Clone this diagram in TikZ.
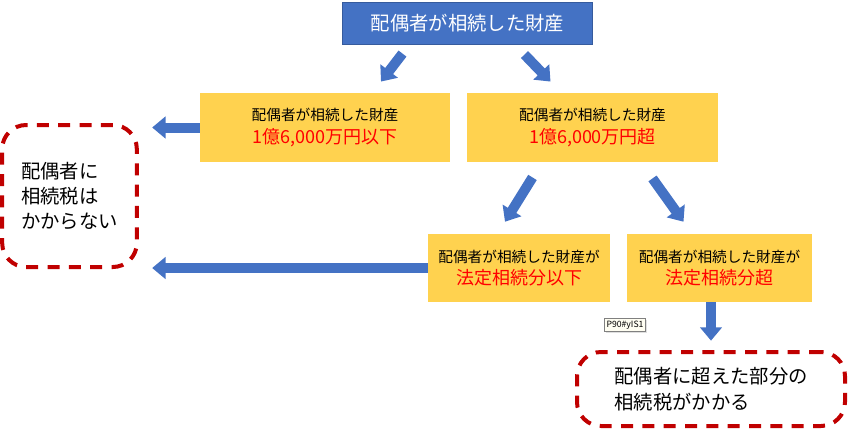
\documentclass[tikz,border=0pt]{standalone}
\usepackage{fontspec}
\setmainfont{Noto Sans CJK JP}
\usetikzlibrary{arrows.meta,calc,shadows}

\definecolor{boxblue}{HTML}{4472C4}
\definecolor{boxgold}{HTML}{FFD24F}
\definecolor{dashred}{HTML}{C00000}
\newcommand{\hotline}[1]{{\color{red}\fontsize{13.5pt}{17pt}\selectfont #1}}

\begin{document}
\begin{tikzpicture}[
    x=0.75pt, y=-0.75pt,
    headbox/.style={rectangle, draw=boxblue!80!black, line width=0.6pt, fill=boxblue, text=white, inner sep=0pt,
      minimum width=188pt, minimum height=31pt, font=\fontsize{14.5pt}{17pt}\selectfont},
    casebox/.style={rectangle, fill=boxgold, inner sep=0pt, minimum height=52pt, align=center,
      font=\fontsize{11pt}{17pt}\selectfont},
    resultbox/.style={rectangle, rounded corners=18pt, draw=dashred, line width=3pt,
      dash pattern=on 9pt off 7pt, inner sep=0pt, align=left, font=\fontsize{14.5pt}{19pt}\selectfont},
    barrow/.style={draw=boxblue, line width=7.5pt, -{Triangle[width=16pt, length=10pt]}},
    tag/.style={rectangle, draw=gray, fill=yellow!5, line width=0.4pt, inner sep=1.5pt,
      drop shadow={shadow xshift=1pt, shadow yshift=-1pt, fill=gray!50}, font=\fontsize{6.5pt}{7pt}\selectfont}
]
\useasboundingbox (0,0) rectangle (850,430);

% boxes
\node (top) [headbox] at (467.5,23.5) {配偶者が相続した財産};
\node (low) [casebox, minimum width=187.5pt] at (325,127.5) {配偶者が相続した財産\\\hotline{1億6,000万円以下}};
\node (high) [casebox, minimum width=188pt] at (592.5,127.5) {配偶者が相続した財産\\\hotline{1億6,000万円超}};
\node (share) [casebox, minimum width=136.5pt, minimum height=51pt] at (519,268) {配偶者が相続した財産が\\\hotline{法定相続分以下}};
\node (over) [casebox, minimum width=139pt, minimum height=51pt] at (719.5,268) {配偶者が相続した財産が\\\hotline{法定相続分超}};
\node (notax) [resultbox, minimum width=101pt, minimum height=106.5pt] at (69.5,196) {配偶者に\\相続税は\\かからない};
\node (tax) [resultbox, minimum width=201pt, minimum height=55.5pt] at (711,389) {配偶者に超えた部分の\\相続税がかかる};
\node (ref) [tag] at (625,325) {P90\#yIS1};

% arrows
\draw [barrow] ($(top.south)+(-65,9)$) -- ($(low.north)+(56,-11)$);
\draw [barrow] ($(top.south)+(57,10)$) -- ($(high.north)+(-42,-11)$);
\draw [barrow, shorten >=10pt] (low.west) -- (low.west -| notax.east);
\draw [barrow] ($(high.south)+(-60,15)$) -- ($(share.north)+(-14,-12)$);
\draw [barrow] ($(high.south)+(60,16)$) -- ($(over.north)+(-36,-12)$);
\draw [barrow, shorten >=10pt] (share.west) -- (share.west -| notax.east);
\draw [barrow, shorten >=7pt] (tax.north |- over.south) -- (tax.north);
\end{tikzpicture}
\end{document}
